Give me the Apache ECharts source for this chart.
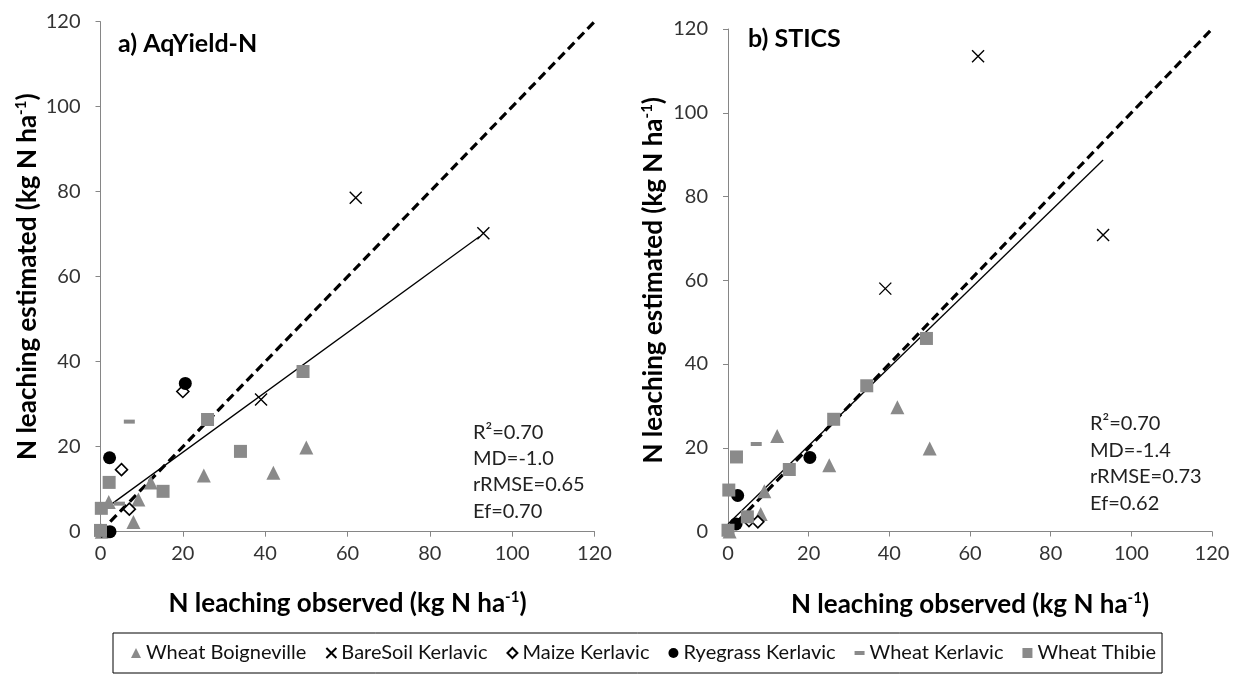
<!DOCTYPE html>
<html>
<head>
<meta charset="utf-8">
<script src="https://cdn.jsdelivr.net/npm/echarts@6/dist/echarts.min.js"></script>
<style>
html,body{margin:0;padding:0;background:#fff;}
#c{width:1241px;height:677px;}
</style>
</head>
<body>
<div id="c"></div>
<script>
// ---------- data ----------
var seriesNames = ['Wheat Boigneville', 'BareSoil Kerlavic', 'Maize Kerlavic', 'Ryegrass Kerlavic', 'Wheat Kerlavic', 'Wheat Thibie'];
var axisTicks = [0, 20, 40, 60, 80, 100, 120];

// panel a) AqYield-N  [observed, estimated]
var boignA  = [[0.3,0],[2,7],[9.2,7.6],[8,2.3],[12.2,11.6],[25.1,13.2],[42,13.9],[50,19.8]];
var bareA   = [[39,31.1],[62,78.6],[93,70.2]];
var maizeA  = [[0.3,0.2],[7,5.3],[5.1,14.6],[20,33]];
var ryeA    = [[2.3,0],[2.2,17.4],[20.6,34.9]];
var wkA     = [[4.6,6.6],[7,25.9]];
var thibieA = [[0,0.3],[0.2,5.5],[2.1,11.6],[15.2,9.5],[26,26.4],[34,18.9],[49.2,37.7]];
var trendA  = [[0,4.6],[92,69.4]];

// panel b) STICS
var boignB  = [[0.4,0],[8.1,4.2],[9,9.6],[12.2,22.8],[25.1,15.8],[42,29.7],[50,19.8]];
var bareB   = [[39,58],[62,113.5],[93,70.8]];
var maizeB  = [[5.2,2.6],[7.4,2.3]];
var ryeB    = [[2,1.8],[2.4,8.6],[20.3,17.7]];
var wkB     = [[7,20.9]];
var thibieB = [[0,0.3],[4.8,3.5],[0.2,9.9],[2.1,17.8],[15.2,14.8],[26.2,26.8],[34.4,34.8],[49.2,46.1]];
var trendB  = [[0,1.8],[93,88.7]];

var oneToOne = [[0,0],[120,120]];

var statsA = ['R\u00b2=0.70', 'MD=-1.0', 'rRMSE=0.65', 'Ef=0.70'];
var statsB = ['R\u00b2=0.70', 'MD=-1.4', 'rRMSE=0.73', 'Ef=0.62'];

// ---------- styling ----------
var FONT = 'Lato';
var GRAY = '#8a8a8a';
var styles = [
  {symbol:'triangle', size:14, itemStyle:{color:GRAY, opacity:1}, icon:'triangle'},
  {symbol:'path://M0,0L10,10M10,0L0,10', size:12, itemStyle:{color:'rgba(0,0,0,0)', borderColor:'#000', borderWidth:1.4, opacity:1}, icon:'path://M0,0L10,10M10,0L0,10'},
  {symbol:'diamond', size:12, itemStyle:{color:'#fff', borderColor:'#000', borderWidth:1.6, opacity:1}, icon:'diamond'},
  {symbol:'circle', size:13, itemStyle:{color:'#000', opacity:1}, icon:'circle'},
  {symbol:'rect', size:[11,4], itemStyle:{color:GRAY, opacity:1}, icon:'path://M0,0h10v4h-10z'},
  {symbol:'rect', size:13, itemStyle:{color:GRAY, opacity:1}, icon:'rect'}
];
var dataA = [boignA, bareA, maizeA, ryeA, wkA, thibieA];
var dataB = [boignB, bareB, maizeB, ryeB, wkB, thibieB];

function nameStyle(){
  return {
    fontFamily: FONT, fontWeight:'bold', fontSize:26, color:'#000', lineHeight:28,
    rich:{ sup:{fontFamily:FONT, fontWeight:'bold', fontSize:15, lineHeight:15, verticalAlign:'top', color:'#000'} }
  };
}
function makeX(idx, gap){
  return {
    type:'value', gridIndex:idx, min:0, max:120, interval:20,
    name:'N leaching observed (kg N ha{sup|-1})', nameLocation:'middle', nameGap:gap,
    nameTextStyle:nameStyle(),
    axisLine:{show:true, lineStyle:{color:'#868686', width:1}},
    axisTick:{show:true, inside:false, length:5, lineStyle:{color:'#868686'}},
    splitLine:{show:false},
    axisLabel:{fontFamily:FONT, fontSize:20, color:'#333', margin:12,
      formatter:function(v){ return axisTicks.indexOf(v) >= 0 ? String(v) : ''; }}
  };
}
function makeY(idx, gap){
  return {
    type:'value', gridIndex:idx, min:0, max:120, interval:20,
    name:'N leaching estimated (kg N ha{sup|-1})', nameLocation:'middle', nameGap:gap,
    nameTextStyle:nameStyle(),
    axisLine:{show:true, lineStyle:{color:'#868686', width:1}},
    axisTick:{show:true, inside:false, length:5, lineStyle:{color:'#868686'}},
    splitLine:{show:false},
    axisLabel:{fontFamily:FONT, fontSize:20, color:'#333', margin:20,
      formatter:function(v){ return axisTicks.indexOf(v) >= 0 ? String(v) : ''; }}
  };
}

var series = [];
[dataA, dataB].forEach(function(dd, g){
  dd.forEach(function(d, i){
    series.push({
      type:'scatter', name:seriesNames[i], xAxisIndex:g, yAxisIndex:g,
      data:d, symbol:styles[i].symbol, symbolSize:styles[i].size,
      itemStyle:styles[i].itemStyle, z:3, emphasis:{disabled:true}, silent:true
    });
  });
  series.push({
    type:'line', name:'1:1', xAxisIndex:g, yAxisIndex:g, data:oneToOne,
    showSymbol:false, symbol:'none', z:2, silent:true,
    lineStyle:{color:'#000', width:3.2, type:[9,5]}
  });
  series.push({
    type:'line', name:'fit', xAxisIndex:g, yAxisIndex:g, data:g===0?trendA:trendB,
    showSymbol:false, symbol:'none', z:2, silent:true,
    lineStyle:{color:'#000', width:1.3}
  });
});

var option = {
  animation:false,
  backgroundColor:'#fff',
  grid:[
    {left:100.5, top:21.7, width:494, height:510},
    {left:728, top:29, width:484, height:502.5}
  ],
  xAxis:[makeX(0,58), makeX(1,59)],
  yAxis:[makeY(0,57), makeY(1,60)],
  legend:{
    data: seriesNames.map(function(n,i){ return {name:n, icon:styles[i].icon}; }),
    left:113, top:633, orient:'horizontal',
    itemWidth:10, itemHeight:10, itemGap:19,
    padding:[10,6,10,18],
    borderColor:'#000', borderWidth:1,
    textStyle:{fontFamily:FONT, fontSize:20, color:'#111'}
  },
  graphic:[
    {type:'text', left:118, top:31, style:{text:'a) AqYield-N', fontFamily:FONT, fontWeight:'bold', fontSize:25, fill:'#000'}},
    {type:'text', left:748, top:26, style:{text:'b) STICS', fontFamily:FONT, fontWeight:'bold', fontSize:25, fill:'#000'}},
    {type:'text', left:473, top:419, style:{text:statsA.join('\n'), fontFamily:FONT, fontSize:20, lineHeight:26.3, fill:'#222'}},
    {type:'text', left:1090, top:410, style:{text:statsB.join('\n'), fontFamily:FONT, fontSize:20, lineHeight:26.7, fill:'#222'}}
  ],
  series:series
};
var chart = echarts.init(document.getElementById('c'), null, {renderer:'canvas'});
chart.setOption(option);
</script>
</body>
</html>
